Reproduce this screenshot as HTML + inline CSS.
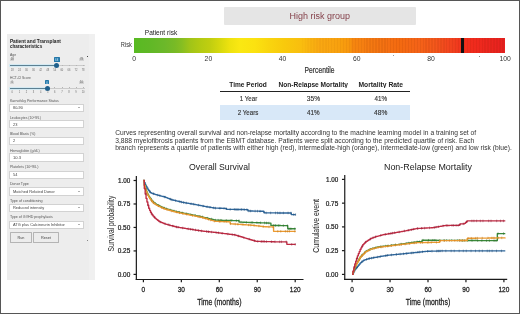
<!DOCTYPE html>
<html><head><meta charset="utf-8"><style>
html,body{margin:0;padding:0;}
body{width:520px;height:314px;position:relative;overflow:hidden;background:#fff;font-family:"Liberation Sans",sans-serif;}
.t{position:absolute;left:0;top:0;white-space:nowrap;line-height:20px;font-size:20px;transform-origin:0 0;filter:opacity(0.999);}
.box{position:absolute;background:#d3d3d3;border-radius:0.5px}
.btn{position:absolute;background:#ececec;border:0.8px solid #b4b4b4;box-sizing:border-box;border-radius:0.6px}
#frame{position:absolute;left:0;top:0;width:520px;height:314px;box-sizing:border-box;border:1px solid #565656;pointer-events:none}
</style></head><body>
<div style="position:absolute;left:7px;top:34px;width:87.5px;height:246px;background:#ededed"></div>
<div style="position:absolute;left:89px;top:34px;width:5.5px;height:246px;background:#f0f0f0"></div>
<div class="box" style="left:10.2px;top:57.50px;width:4.2px;height:3.3px"></div>
<div class="box" style="left:79.3px;top:57.50px;width:4.4px;height:3.3px"></div>
<div style="position:absolute;left:53.5px;top:57.2px;width:6.30px;height:4.40px;background:#2477a8;border-radius:0.6px"></div>
<div style="position:absolute;left:9.4px;top:64.20px;width:47.30px;height:3.2px;background:#d3eaf3"></div>
<div style="position:absolute;left:9.6px;top:65.25px;width:47.10px;height:1.1px;background:#5d8092"></div>
<div style="position:absolute;left:56.70px;top:65.35px;width:27.90px;height:0.9px;background:#cacaca"></div>
<div style="position:absolute;left:61.56px;top:64.50px;width:0.6px;height:1.0px;background:#b5b5b5"></div>
<div style="position:absolute;left:68.64px;top:64.50px;width:0.6px;height:1.0px;background:#b5b5b5"></div>
<div style="position:absolute;left:75.72px;top:64.50px;width:0.6px;height:1.0px;background:#b5b5b5"></div>
<div style="position:absolute;left:82.80px;top:64.50px;width:0.6px;height:1.0px;background:#b5b5b5"></div>
<div style="position:absolute;left:54.20px;top:63.30px;width:5px;height:5px;border-radius:50%;background:#1d5f8c"></div>
<div class="box" style="left:10.2px;top:80.50px;width:4.2px;height:3.3px"></div>
<div class="box" style="left:79.3px;top:80.50px;width:4.4px;height:3.3px"></div>
<div style="position:absolute;left:45.4px;top:80.2px;width:3.40px;height:4.00px;background:#2477a8;border-radius:0.6px"></div>
<div style="position:absolute;left:9.4px;top:86.60px;width:37.60px;height:3.2px;background:#d3eaf3"></div>
<div style="position:absolute;left:9.6px;top:87.65px;width:37.40px;height:1.1px;background:#5d8092"></div>
<div style="position:absolute;left:47.00px;top:87.75px;width:37.60px;height:0.9px;background:#cacaca"></div>
<div style="position:absolute;left:54.48px;top:86.90px;width:0.6px;height:1.0px;background:#b5b5b5"></div>
<div style="position:absolute;left:61.56px;top:86.90px;width:0.6px;height:1.0px;background:#b5b5b5"></div>
<div style="position:absolute;left:68.64px;top:86.90px;width:0.6px;height:1.0px;background:#b5b5b5"></div>
<div style="position:absolute;left:75.72px;top:86.90px;width:0.6px;height:1.0px;background:#b5b5b5"></div>
<div style="position:absolute;left:82.80px;top:86.90px;width:0.6px;height:1.0px;background:#b5b5b5"></div>
<div style="position:absolute;left:44.50px;top:85.70px;width:5px;height:5px;border-radius:50%;background:#1d5f8c"></div>
<div style="position:absolute;left:86.6px;top:55.8px;width:1.4px;height:1.2px;background:#444"></div>
<div style="position:absolute;left:86.8px;top:240px;width:1.2px;height:1.2px;background:#888"></div>
<div style="position:absolute;left:9.3px;top:103.80px;width:75.0px;height:8.10px;background:#fff;border:0.6px solid #d2d2d2;box-sizing:border-box"></div>
<div style="position:absolute;left:77.7px;top:107.15px;width:0;height:0;border-left:1.3px solid transparent;border-right:1.3px solid transparent;border-top:1.5px solid #666"></div>
<div style="position:absolute;left:9.3px;top:120.20px;width:75.0px;height:8.30px;background:#fff;border:0.6px solid #d2d2d2;box-sizing:border-box"></div>
<div style="position:absolute;left:9.3px;top:136.60px;width:75.0px;height:8.40px;background:#fff;border:0.6px solid #d2d2d2;box-sizing:border-box"></div>
<div style="position:absolute;left:9.3px;top:153.40px;width:75.0px;height:8.40px;background:#fff;border:0.6px solid #d2d2d2;box-sizing:border-box"></div>
<div style="position:absolute;left:9.3px;top:170.50px;width:75.0px;height:8.40px;background:#fff;border:0.6px solid #d2d2d2;box-sizing:border-box"></div>
<div style="position:absolute;left:9.3px;top:187.00px;width:75.0px;height:8.50px;background:#fff;border:0.6px solid #d2d2d2;box-sizing:border-box"></div>
<div style="position:absolute;left:77.7px;top:190.55px;width:0;height:0;border-left:1.3px solid transparent;border-right:1.3px solid transparent;border-top:1.5px solid #666"></div>
<div style="position:absolute;left:9.3px;top:203.50px;width:75.0px;height:8.40px;background:#fff;border:0.6px solid #d2d2d2;box-sizing:border-box"></div>
<div style="position:absolute;left:77.7px;top:207.00px;width:0;height:0;border-left:1.3px solid transparent;border-right:1.3px solid transparent;border-top:1.5px solid #666"></div>
<div style="position:absolute;left:9.3px;top:220.50px;width:75.0px;height:8.50px;background:#fff;border:0.6px solid #d2d2d2;box-sizing:border-box"></div>
<div style="position:absolute;left:77.7px;top:224.05px;width:0;height:0;border-left:1.3px solid transparent;border-right:1.3px solid transparent;border-top:1.5px solid #666"></div>
<div class="btn" style="left:9.5px;top:232.3px;width:22.9px;height:11.1px"></div>
<div class="btn" style="left:33.2px;top:232.3px;width:25.4px;height:11.1px"></div>
<div style="position:absolute;left:224px;top:7.4px;width:192px;height:17.2px;background:#e5e5e5;border-radius:1px"></div>
<div style="position:absolute;left:134.2px;top:37.5px;width:371px;height:15.5px;background:linear-gradient(to right,#58ba22 0.0%,#60b826 4.26%,#6cb82a 8.3%,#78ba26 11.0%,#86be22 12.88%,#a0c418 15.04%,#b2ca12 17.74%,#c0ce10 20.43%,#d6d80e 23.13%,#eee20f 25.82%,#fae812 28.52%,#fbe210 32.56%,#f9d40e 36.6%,#f8c90c 40.65%,#f9bf0e 44.69%,#f9a812 50.08%,#f8a00e 55.47%,#f7960e 58.17%,#f5860f 58.98%,#f57a12 63.56%,#f46e12 68.95%,#f36a10 71.64%,#f46218 77.04%,#f5581c 81.08%,#f24a1e 83.77%,#f03e1e 86.47%,#f22e1c 89.16%,#e82020 100.0%)"></div>
<div style="position:absolute;left:300px;top:37.5px;width:205.2px;height:15.5px;background:repeating-linear-gradient(to right,rgba(0,0,0,0) 0px,rgba(0,0,0,0) 1.6px,rgba(110,30,0,0.08) 1.6px,rgba(110,30,0,0.08) 2.95px);-webkit-mask-image:linear-gradient(to right,rgba(0,0,0,0.2),#000 40%)"></div>
<div style="position:absolute;left:461px;top:37.5px;width:3px;height:15.5px;background:#111"></div>
<div style="position:absolute;left:393.3px;top:55.3px;width:0.9px;height:1.2px;background:#999"></div>
<div style="position:absolute;left:478.6px;top:55.5px;width:0.9px;height:1.2px;background:#888"></div>
<div style="position:absolute;left:220.2px;top:90.8px;width:190.2px;height:1.6px;background:#222"></div>
<div style="position:absolute;left:220.4px;top:105px;width:190px;height:15px;background:#d8e8f8"></div>
<svg width="520" height="314" style="position:absolute;left:0;top:0">
<g stroke="#1a1a1a" stroke-width="1.2" fill="none">
<line x1="136.35" y1="176.0" x2="136.35" y2="280.1" /><line x1="135.75" y1="279.5" x2="303.5" y2="279.5" /><line x1="133.54999999999998" y1="180.49999999999997" x2="136.35" y2="180.49999999999997" /><line x1="133.54999999999998" y1="203.97499999999997" x2="136.35" y2="203.97499999999997" /><line x1="133.54999999999998" y1="227.45" x2="136.35" y2="227.45" /><line x1="133.54999999999998" y1="250.92499999999998" x2="136.35" y2="250.92499999999998" /><line x1="133.54999999999998" y1="274.4" x2="136.35" y2="274.4" /><line x1="143.4" y1="279.5" x2="143.4" y2="282.3" /><line x1="181.35" y1="279.5" x2="181.35" y2="282.3" /><line x1="219.3" y1="279.5" x2="219.3" y2="282.3" /><line x1="257.25" y1="279.5" x2="257.25" y2="282.3" /><line x1="295.2" y1="279.5" x2="295.2" y2="282.3" />
<line x1="344.75" y1="174.9" x2="344.75" y2="280.0" /><line x1="344.15" y1="279.4" x2="507.2" y2="279.4" /><line x1="341.95" y1="179.39999999999998" x2="344.75" y2="179.39999999999998" /><line x1="341.95" y1="203.14999999999998" x2="344.75" y2="203.14999999999998" /><line x1="341.95" y1="226.89999999999998" x2="344.75" y2="226.89999999999998" /><line x1="341.95" y1="250.64999999999998" x2="344.75" y2="250.64999999999998" /><line x1="341.95" y1="274.4" x2="344.75" y2="274.4" /><line x1="352.1" y1="279.4" x2="352.1" y2="282.2" /><line x1="390.05" y1="279.4" x2="390.05" y2="282.2" /><line x1="428.0" y1="279.4" x2="428.0" y2="282.2" /><line x1="465.95000000000005" y1="279.4" x2="465.95000000000005" y2="282.2" /><line x1="503.9" y1="279.4" x2="503.9" y2="282.2" />
</g>
<g fill="none" stroke-width="1.35" stroke-linejoin="round">
<path d="M143.40,180.50H144.29V182.75H145.17V185.07H146.06V186.52H146.94V187.97H147.83V189.33H148.71V190.64H149.60V191.96H150.48V192.61H151.37V193.17H152.25V193.46H153.14V193.75H154.03V194.05H154.91V194.34H155.80V194.64H156.68V194.88H157.57V195.12H158.45V195.36H159.34V195.59H160.22V195.83H161.11V196.07H162.00V196.31H162.88V196.54H163.77V196.78H164.65V197.02H165.54V197.33H166.42V197.69H167.31V198.05H168.19V198.41H169.08V198.77H169.96V199.13H170.85V199.49H171.74V199.81H172.62V200.02H173.51V200.22H174.39V200.43H175.28V200.64H176.16V200.84H177.05V201.05H177.93V201.26H178.82V201.47H179.71V201.67H180.59V201.88H181.48V202.09H182.36V202.30H183.25V202.49H184.13V202.65H185.02V202.80H185.90V202.95H186.79V203.10H187.67V203.25H188.56V203.40H189.45V203.56H190.33V203.71H191.22V203.86H192.10V204.01H192.99V204.16H193.87V204.31H194.76V204.47H195.64V204.64H196.53V204.82H197.42V204.99H198.30V205.16H199.19V205.34H200.07V205.51H200.96V205.68H201.84V205.86H202.73V206.03H203.61V206.20H204.50V206.38H205.39V206.55H206.27V206.72H207.16V206.86H208.04V207.00H208.93V207.14H209.81V207.28H210.70V207.42H211.58V207.56H212.47V207.70H213.35V207.85H214.24V207.99H215.13V208.11H216.01V208.13H216.90V208.16H217.78V208.18H218.67V208.20H219.55V208.23H220.44V208.25H221.32V208.27H222.21V208.30H223.10V208.32H223.98V208.34H224.87V208.37H225.75V208.70H226.64V209.34H227.52V209.35H228.41V209.36H229.29V209.37H230.18V209.38H231.06V209.39H231.95V209.41H232.84V209.42H233.72V209.43H234.61V209.44H235.49V209.45H236.38V209.46H237.26V209.47H238.15V209.49H239.03V209.50H239.92V209.51H240.81V209.52H241.69V209.53H242.58V209.54H243.46V209.56H244.35V209.57H245.23V209.58H246.12V209.59H247.00V209.60H247.89V210.92H248.77V210.94H249.66V210.97H250.55V210.99H251.43V211.01H252.32V211.03H253.20V211.05H254.09V211.07H254.97V211.09H255.86V211.11H256.74V211.14H257.63V211.16H258.52V211.18H259.40V211.20H260.29V211.22H261.17V211.24H262.06V211.26H262.94V211.28H263.83V212.36H264.71V212.90H265.60V212.90H266.48V212.90H267.37V212.91H268.26V212.91H269.14V212.91H270.03V212.92H270.91V212.92H271.80V212.92H272.68V212.93H273.57V212.93H274.45V212.93H275.34V212.94H276.23V212.94H277.11V212.94H278.00V212.95H278.88V212.95H279.77V212.95H280.65V212.95H281.54V212.96H282.42V212.96H283.31V212.96H284.19V212.97H285.08V212.97H285.97V212.97H286.85V212.98H287.74V212.98H288.62V212.98H289.51V212.99H290.39V212.99H291.28V214.59H292.16V214.59H293.05V214.59H293.94V214.59H294.82V214.59H295.71V214.59" stroke="#2f679c"/>
<path d="M145.93,183.77v2.6M150.22,190.66v2.6M153.64,192.45v2.6M157.73,193.82v2.6M159.86,194.29v2.6M164.86,195.72v2.6M170.40,197.83v2.6M171.96,198.51v2.6M175.63,199.34v2.6M179.82,200.37v2.6M181.50,200.79v2.6M183.64,201.19v2.6M186.23,201.65v2.6M191.09,202.41v2.6M193.74,202.86v2.6M198.64,203.86v2.6M203.04,204.73v2.6M207.12,205.42v2.6M209.94,205.98v2.6M213.66,206.55v2.6M215.51,206.81v2.6M219.90,206.93v2.6M224.04,207.04v2.6M226.32,207.40v2.6M230.20,208.08v2.6M234.34,208.13v2.6M236.01,208.15v2.6M237.97,208.17v2.6M241.38,208.22v2.6M244.29,208.26v2.6M246.87,208.29v2.6M248.83,209.64v2.6M250.60,209.69v2.6M255.11,209.79v2.6M257.49,209.84v2.6M260.05,209.90v2.6M263.96,211.06v2.6M266.16,211.60v2.6M270.64,211.62v2.6M275.50,211.64v2.6M277.55,211.64v2.6M279.97,211.65v2.6M283.40,211.66v2.6M288.09,211.68v2.6M290.93,211.69v2.6M293.72,213.29v2.6M295.59,213.29v2.6" stroke="#1f4a72" stroke-width="0.8" opacity="0.6"/>
<path d="M143.40,180.50H144.29V185.07H145.17V188.63H146.06V190.95H146.94V193.27H147.83V194.97H148.71V196.42H149.60V197.87H150.48V199.00H151.37V200.13H152.25V201.26H153.14V202.19H154.03V202.85H154.91V203.51H155.80V204.16H156.68V204.64H157.57V205.09H158.45V205.54H159.34V205.99H160.22V206.44H161.11V206.86H162.00V207.25H162.88V207.64H163.77V208.02H164.65V208.41H165.54V208.72H166.42V208.96H167.31V209.21H168.19V209.46H169.08V209.70H169.96V209.95H170.85V210.20H171.74V210.44H172.62V210.69H173.51V210.94H174.39V211.18H175.28V211.43H176.16V211.67H177.05V211.86H177.93V212.04H178.82V212.22H179.71V212.40H180.59V212.59H181.48V212.77H182.36V212.95H183.25V213.13H184.13V213.31H185.02V213.50H185.90V213.68H186.79V213.86H187.67V214.04H188.56V214.23H189.45V214.41H190.33V214.58H191.22V214.76H192.10V214.94H192.99V215.12H193.87V215.29H194.76V215.47H195.64V215.65H196.53V215.83H197.42V216.00H198.30V216.18H199.19V216.36H200.07V216.54H200.96V216.71H201.84V216.90H202.73V217.12H203.61V217.34H204.50V217.55H205.39V217.77H206.27V217.99H207.16V218.20H208.04V218.42H208.93V218.64H209.81V218.85H210.70V219.07H211.58V219.29H212.47V219.51H213.35V219.72H214.24V219.94H215.13V220.13H216.01V220.15H216.90V220.17H217.78V220.19H218.67V220.21H219.55V220.24H220.44V220.26H221.32V220.28H222.21V220.30H223.10V220.32H223.98V220.34H224.87V220.36H225.75V220.39H226.64V220.41H227.52V220.43H228.41V220.45H229.29V220.47H230.18V220.49H231.06V220.51H231.95V220.54H232.84V220.56H233.72V220.58H234.61V220.60H235.49V220.62H236.38V220.64H237.26V220.66H238.15V220.69H239.03V222.10H239.92V222.13H240.81V222.16H241.69V222.19H242.58V222.22H243.46V222.25H244.35V222.28H245.23V222.30H246.12V222.33H247.00V222.36H247.89V222.39H248.77V222.42H249.66V222.45H250.55V222.48H251.43V222.51H252.32V222.54H253.20V222.56H254.09V222.59H254.97V222.62H255.86V222.65H256.74V222.68H257.63V222.71H258.52V222.74H259.40V222.77H260.29V222.80H261.17V222.82H262.06V222.85H262.94V222.88H263.83V222.91H264.71V222.94H265.60V222.97H266.48V223.00H267.37V223.03H268.26V223.06H269.14V223.09H270.03V223.11H270.91V225.38H271.80V225.40H272.68V225.42H273.57V225.43H274.45V225.45H275.34V225.46H276.23V225.48H277.11V225.49H278.00V225.51H278.88V225.52H279.77V225.54H280.65V225.55H281.54V225.57H282.42V225.58H283.31V225.60H284.19V225.62H285.08V225.63H285.97V225.65H286.85V225.66H287.74V228.76H288.62V228.76H289.51V228.76H290.39V228.76H291.28V228.76H292.16V228.76H293.05V228.76H293.94V228.76H294.82V228.76H295.71V228.76" stroke="#3a8a3a"/>
<path d="M145.93,187.33v2.6M150.87,197.70v2.6M153.46,200.89v2.6M155.28,202.21v2.6M158.62,204.24v2.6M164.19,206.72v2.6M166.35,207.42v2.6M170.17,208.65v2.6M173.92,209.64v2.6M176.38,210.37v2.6M179.24,210.92v2.6M182.05,211.47v2.6M186.66,212.38v2.6M190.76,213.28v2.6M195.33,214.17v2.6M199.76,215.06v2.6M202.48,215.60v2.6M207.56,216.90v2.6M211.47,217.77v2.6M215.53,218.83v2.6M218.14,218.89v2.6M220.94,218.96v2.6M226.29,219.09v2.6M231.05,219.19v2.6M236.39,219.34v2.6M238.99,219.39v2.6M241.01,220.86v2.6M246.39,221.03v2.6M252.05,221.21v2.6M256.85,221.38v2.6M260.59,221.50v2.6M264.51,221.61v2.6M266.46,221.67v2.6M268.86,221.76v2.6M273.68,224.13v2.6M275.42,224.16v2.6M278.77,224.21v2.6M283.34,224.30v2.6M287.39,224.36v2.6M289.00,227.46v2.6M290.89,227.46v2.6M294.82,227.46v2.6" stroke="#2a632a" stroke-width="0.8" opacity="0.6"/>
<path d="M143.40,180.50H144.29V185.57H145.17V189.21H146.06V191.56H146.94V193.91H147.83V195.62H148.71V197.08H149.60V198.53H150.48V199.66H151.37V200.79H152.25V201.92H153.14V202.85H154.03V203.51H154.91V204.16H155.80V204.82H156.68V205.30H157.57V205.75H158.45V206.20H159.34V206.65H160.22V207.10H161.11V207.51H162.00V207.88H162.88V208.25H163.77V208.61H164.65V208.98H165.54V209.28H166.42V209.53H167.31V209.77H168.19V210.02H169.08V210.27H169.96V210.51H170.85V210.76H171.74V211.01H172.62V211.25H173.51V211.50H174.39V211.75H175.28V211.99H176.16V212.24H177.05V212.42H177.93V212.60H178.82V212.78H179.71V212.97H180.59V213.15H181.48V213.33H182.36V213.51H183.25V213.70H184.13V213.88H185.02V214.06H185.90V214.24H186.79V214.42H187.67V214.61H188.56V214.79H189.45V214.97H190.33V215.15H191.22V215.32H192.10V215.50H192.99V215.68H193.87V215.86H194.76V216.03H195.64V216.21H196.53V216.39H197.42V216.57H198.30V216.74H199.19V216.92H200.07V217.10H200.96V217.28H201.84V217.48H202.73V217.74H203.61V218.00H204.50V218.26H205.39V218.52H206.27V218.78H207.16V219.04H208.04V219.30H208.93V219.56H209.81V219.82H210.70V220.08H211.58V220.34H212.47V220.60H213.35V220.86H214.24V221.12H215.13V221.35H216.01V221.38H216.90V221.41H217.78V221.43H218.67V221.46H219.55V221.49H220.44V221.52H221.32V221.55H222.21V221.58H223.10V221.60H223.98V221.63H224.87V221.66H225.75V221.69H226.64V221.72H227.52V221.74H228.41V221.77H229.29V221.80H230.18V223.79H231.06V223.85H231.95V223.90H232.84V223.96H233.72V224.02H234.61V224.08H235.49V224.14H236.38V224.19H237.26V224.25H238.15V224.31H239.03V224.37H239.92V224.42H240.81V224.48H241.69V224.54H242.58V224.60H243.46V224.66H244.35V224.71H245.23V224.77H246.12V224.83H247.00V224.89H247.89V224.95H248.77V225.00H249.66V225.06H250.55V225.13H251.43V225.23H252.32V225.32H253.20V225.42H254.09V225.51H254.97V225.61H255.86V225.70H256.74V225.80H257.63V225.90H258.52V226.01H259.40V226.12H260.29V226.24H261.17V226.35H262.06V226.46H262.94V226.57H263.83V226.68H264.71V226.72H265.60V226.75H266.48V226.78H267.37V226.81H268.26V226.83H269.14V226.86H270.03V226.89H270.91V226.92H271.80V226.94H272.68V226.97H273.57V231.30H274.45V231.30H275.34V231.30H276.23V231.30H277.11V231.30H278.00V231.30H278.88V231.30H279.77V231.30H280.65V231.30H281.54V231.30H282.42V231.30H283.31V231.30H284.19V231.30H285.08V231.30H285.97V231.30H286.85V231.30H287.74V231.30H288.62V231.30H289.51V231.30H290.39V231.30H291.28V231.30H292.16V231.30H293.05V231.30H293.94V231.30H294.82V231.30H295.71V231.30" stroke="#ec9a30"/>
<path d="M145.93,187.91v2.6M151.55,199.49v2.6M153.32,201.55v2.6M158.44,204.45v2.6M161.64,206.21v2.6M163.73,206.95v2.6M167.07,208.23v2.6M171.75,209.71v2.6M176.97,210.94v2.6M179.51,211.48v2.6M182.77,212.21v2.6M186.80,213.12v2.6M192.42,214.20v2.6M198.05,215.27v2.6M200.05,215.62v2.6M202.93,216.44v2.6M205.34,216.96v2.6M208.44,218.00v2.6M210.74,218.78v2.6M214.34,219.82v2.6M219.80,220.19v2.6M224.14,220.33v2.6M226.13,220.39v2.6M230.55,222.49v2.6M235.32,222.78v2.6M237.93,222.95v2.6M243.00,223.30v2.6M248.62,223.65v2.6M250.72,223.83v2.6M253.99,224.12v2.6M258.91,224.71v2.6M263.32,225.27v2.6M268.96,225.53v2.6M273.13,225.67v2.6M277.77,230.00v2.6M280.75,230.00v2.6M285.38,230.00v2.6M287.35,230.00v2.6M289.33,230.00v2.6M294.85,230.00v2.6" stroke="#b8741c" stroke-width="0.8" opacity="0.6"/>
<path d="M143.40,180.50H144.29V188.61H145.17V194.00H146.06V198.41H146.94V202.01H147.83V205.20H148.71V208.24H149.60V210.30H150.48V212.20H151.37V213.88H152.25V215.01H153.14V216.14H154.03V217.27H154.91V218.11H155.80V218.84H156.68V219.56H157.57V220.29H158.45V221.02H159.34V221.64H160.22V222.00H161.11V222.37H162.00V222.73H162.88V223.09H163.77V223.46H164.65V223.82H165.54V224.11H166.42V224.35H167.31V224.59H168.19V224.83H169.08V225.07H169.96V225.31H170.85V225.55H171.74V225.79H172.62V226.02H173.51V226.26H174.39V226.50H175.28V226.74H176.16V226.98H177.05V227.12H177.93V227.27H178.82V227.41H179.71V227.55H180.59V227.70H181.48V227.84H182.36V227.98H183.25V228.13H184.13V228.27H185.02V228.41H185.90V228.56H186.79V228.70H187.67V228.84H188.56V228.98H189.45V229.13H190.33V229.26H191.22V229.40H192.10V229.54H192.99V229.68H193.87V229.82H194.76V229.95H195.64V230.09H196.53V230.23H197.42V230.37H198.30V230.51H199.19V230.64H200.07V230.78H200.96V230.92H201.84V231.04H202.73V231.14H203.61V231.23H204.50V231.32H205.39V231.42H206.27V231.51H207.16V231.60H208.04V231.70H208.93V231.79H209.81V231.88H210.70V231.97H211.58V232.07H212.47V232.16H213.35V232.25H214.24V232.35H215.13V232.44H216.01V232.55H216.90V232.66H217.78V232.78H218.67V232.89H219.55V233.00H220.44V233.11H221.32V233.22H222.21V233.33H223.10V233.44H223.98V233.55H224.87V233.66H225.75V233.77H226.64V233.89H227.52V234.00H228.41V234.11H229.29V234.22H230.18V234.33H231.06V234.44H231.95V234.55H232.84V234.66H233.72V234.77H234.61V234.91H235.49V235.17H236.38V235.44H237.26V235.71H238.15V235.97H239.03V236.24H239.92V236.51H240.81V236.77H241.69V237.04H242.58V237.31H243.46V237.57H244.35V237.84H245.23V238.11H246.12V238.37H247.00V238.64H247.89V238.91H248.77V239.17H249.66V239.44H250.55V239.71H251.43V239.98H252.32V240.24H253.20V240.51H254.09V240.78H254.97V241.04H255.86V241.31H256.74V241.37H257.63V241.39H258.52V241.41H259.40V241.43H260.29V241.45H261.17V241.48H262.06V241.50H262.94V241.52H263.83V241.54H264.71V241.56H265.60V241.59H266.48V241.61H267.37V241.63H268.26V241.65H269.14V241.67H270.03V241.69H270.91V241.72H271.80V241.74H272.68V241.76H273.57V241.78H274.45V241.80H275.34V241.82H276.23V241.82H277.11V241.82H278.00V241.82H278.88V241.82H279.77V241.82H280.65V241.82H281.54V241.82H282.42V241.82H283.31V241.82H284.19V241.82H285.08V241.82H285.97V241.82H286.85V244.35H287.74V244.35H288.62V244.35H289.51V244.35H290.39V244.35H291.28V244.35H292.16V244.35H293.05V244.35H293.94V244.35H294.82V244.35H295.71V244.35" stroke="#bf2a42"/>
<path d="M145.93,192.70v2.6M148.04,203.90v2.6M151.92,212.58v2.6M154.71,215.97v2.6M160.23,220.70v2.6M165.14,222.52v2.6M168.19,223.29v2.6M169.80,223.77v2.6M172.82,224.72v2.6M176.52,225.68v2.6M178.09,225.97v2.6M182.74,226.68v2.6M188.20,227.54v2.6M190.58,227.96v2.6M192.91,228.24v2.6M195.51,228.65v2.6M198.40,229.21v2.6M201.47,229.62v2.6M206.67,230.21v2.6M208.52,230.40v2.6M211.72,230.77v2.6M216.11,231.25v2.6M218.40,231.48v2.6M222.21,232.03v2.6M227.90,232.70v2.6M232.25,233.25v2.6M234.82,233.61v2.6M238.38,234.67v2.6M243.84,236.27v2.6M249.21,237.87v2.6M254.45,239.48v2.6M257.76,240.09v2.6M261.75,240.18v2.6M264.10,240.24v2.6M266.43,240.29v2.6M271.44,240.42v2.6M274.96,240.50v2.6M279.64,240.52v2.6M281.44,240.52v2.6M286.21,240.52v2.6M291.69,243.05v2.6M295.21,243.05v2.6" stroke="#862038" stroke-width="0.8" opacity="0.6"/>
<path d="M352.10,274.40H352.99V272.71H353.87V270.85H354.76V269.55H355.64V268.47H356.53V267.39H357.41V266.32H358.30V265.25H359.18V264.18H360.07V263.12H360.96V262.32H361.84V261.63H362.73V260.94H363.61V260.25H364.50V259.91H365.38V259.62H366.27V259.34H367.15V259.05H368.04V258.77H368.92V258.48H369.81V258.31H370.70V258.15H371.58V258.00H372.47V257.85H373.35V257.69H374.24V257.54H375.12V257.38H376.01V257.23H376.89V257.07H377.78V256.92H378.67V256.76H379.55V256.60H380.44V256.44H381.32V256.29H382.21V256.13H383.09V255.97H383.98V255.83H384.86V255.70H385.75V255.56H386.63V255.42H387.52V255.29H388.41V255.17H389.29V255.09H390.18V255.00H391.06V254.92H391.95V254.83H392.83V254.75H393.72V254.67H394.60V254.58H395.49V254.50H396.38V254.41H397.26V254.33H398.15V254.24H399.03V254.16H399.92V254.07H400.80V253.99H401.69V253.90H402.57V253.81H403.46V253.72H404.34V253.63H405.23V253.54H406.12V253.45H407.00V253.35H407.89V253.26H408.77V253.17H409.66V253.08H410.54V252.99H411.43V252.90H412.31V252.81H413.20V252.72H414.09V252.63H414.97V252.54H415.86V252.45H416.74V252.36H417.63V252.26H418.51V252.17H419.40V252.07H420.28V251.97H421.17V251.88H422.05V251.78H422.94V251.69H423.83V251.59H424.71V251.49H425.60V251.40H426.48V251.31H427.37V251.29H428.25V251.26H429.14V251.24H430.02V251.22H430.91V251.19H431.80V251.17H432.68V251.15H433.57V251.12H434.45V251.10H435.34V251.08H436.22V251.05H437.11V251.03H437.99V251.01H438.88V250.98H439.76V250.96H440.65V250.93H441.54V250.93H442.42V250.93H443.31V250.93H444.19V250.93H445.08V250.93H445.96V250.93H446.85V250.93H447.73V250.93H448.62V250.93H449.51V250.93H450.39V250.93H451.28V250.93H452.16V250.93H453.05V250.93H453.93V250.93H454.82V250.93H455.70V250.93H456.59V250.93H457.47V250.93H458.36V250.93H459.25V250.93H460.13V250.93H461.02V250.93H461.90V250.93H462.79V250.93H463.67V250.93H464.56V250.93H465.44V250.93H466.33V250.93H467.22V250.93H468.10V250.93H468.99V250.93H469.87V250.93H470.76V250.93H471.64V250.93H472.53V250.93H473.41V250.93H474.30V250.93H475.18V250.93H476.07V250.93H476.96V250.93H477.84V250.93H478.73V250.93H479.61V250.93H480.50V250.93H481.38V250.93H482.27V250.93H483.15V250.93H484.04V250.93H484.93V250.93H485.81V250.93H486.70V250.93H487.58V250.93H488.47V250.93H489.35V250.93H490.24V250.93H491.12V250.93H492.01V250.93H492.89V250.93H493.78V250.93H494.67V250.93H495.55V250.93H496.44V250.93H497.32V250.93H498.21V250.93H499.09V250.93H499.98V250.93H500.86V250.93H501.75V250.93H502.64V250.93H503.52V250.93H504.41V250.93H505.29V250.93" stroke="#2f679c"/>
<path d="M354.63,269.55v2.6M356.84,266.09v2.6M361.87,260.33v2.6M366.54,258.04v2.6M369.27,257.18v2.6M371.57,256.85v2.6M373.63,256.39v2.6M377.67,255.77v2.6M380.25,255.30v2.6M385.79,254.26v2.6M387.35,254.12v2.6M391.51,253.62v2.6M396.53,253.11v2.6M400.13,252.77v2.6M403.42,252.51v2.6M406.73,252.15v2.6M411.34,251.69v2.6M412.99,251.51v2.6M417.86,250.96v2.6M419.60,250.77v2.6M422.58,250.48v2.6M427.65,249.99v2.6M431.97,249.87v2.6M436.68,249.75v2.6M438.31,249.71v2.6M440.01,249.66v2.6M442.18,249.63v2.6M445.83,249.63v2.6M451.15,249.63v2.6M454.22,249.63v2.6M459.18,249.63v2.6M463.30,249.63v2.6M466.26,249.63v2.6M471.04,249.63v2.6M475.50,249.63v2.6M479.25,249.63v2.6M482.37,249.63v2.6M487.22,249.63v2.6M489.34,249.63v2.6M492.12,249.63v2.6M496.51,249.63v2.6M501.46,249.63v2.6" stroke="#1f4a72" stroke-width="0.8" opacity="0.6"/>
<path d="M352.10,274.40H352.99V271.64H353.87V268.91H354.76V266.86H355.64V265.09H356.53V263.32H357.41V261.72H358.30V260.20H359.18V258.68H360.07V257.16H360.96V256.08H361.84V255.17H362.73V254.26H363.61V253.36H364.50V252.45H365.38V251.54H366.27V251.03H367.15V250.59H368.04V250.14H368.92V249.70H369.81V249.26H370.70V248.81H371.58V248.56H372.47V248.35H373.35V248.13H374.24V247.91H375.12V247.69H376.01V247.48H376.89V247.26H377.78V247.04H378.67V246.91H379.55V246.79H380.44V246.66H381.32V246.53H382.21V246.41H383.09V246.28H383.98V246.18H384.86V246.08H385.75V245.97H386.63V245.87H387.52V245.77H388.41V245.66H389.29V245.55H390.18V245.44H391.06V245.33H391.95V245.22H392.83V245.11H393.72V245.00H394.60V244.89H395.49V244.78H396.38V244.66H397.26V244.55H398.15V244.44H399.03V244.33H399.92V244.22H400.80V244.11H401.69V243.99H402.57V243.86H403.46V243.73H404.34V243.60H405.23V243.47H406.12V243.35H407.00V243.22H407.89V243.09H408.77V242.96H409.66V242.84H410.54V242.71H411.43V242.58H412.31V242.45H413.20V242.33H414.09V242.20H414.97V242.07H415.86V241.94H416.74V241.81H417.63V241.78H418.51V241.74H419.40V241.71H420.28V241.67H421.17V241.64H422.05V240.20H422.94V240.21H423.83V240.21H424.71V240.22H425.60V240.22H426.48V240.23H427.37V240.24H428.25V240.24H429.14V240.25H430.02V240.25H430.91V240.26H431.80V240.26H432.68V240.27H433.57V240.28H434.45V240.28H435.34V240.29H436.22V240.29H437.11V240.30H437.99V240.30H438.88V240.31H439.76V240.31H440.65V240.32H441.54V240.33H442.42V240.33H443.31V240.34H444.19V240.34H445.08V240.35H445.96V240.35H446.85V240.36H447.73V240.36H448.62V240.37H449.51V240.38H450.39V240.38H451.28V240.39H452.16V240.39H453.05V240.40H453.93V240.40H454.82V240.41H455.70V240.41H456.59V240.42H457.47V240.43H458.36V240.43H459.25V240.44H460.13V240.44H461.02V240.45H461.90V240.45H462.79V240.46H463.67V240.47H464.56V240.47H465.44V240.48H466.33V240.48H467.22V240.49H468.10V240.49H468.99V240.50H469.87V240.50H470.76V240.51H471.64V240.52H472.53V240.52H473.41V240.53H474.30V240.53H475.18V240.54H476.07V240.54H476.96V240.55H477.84V240.55H478.73V240.56H479.61V240.57H480.50V240.57H481.38V240.58H482.27V240.58H483.15V240.59H484.04V240.59H484.93V240.60H485.81V240.60H486.70V240.61H487.58V240.62H488.47V240.62H489.35V240.63H490.24V240.63H491.12V240.64H492.01V240.64H492.89V240.65H493.78V240.66H494.67V240.66H495.55V240.67H496.44V240.67H497.32V233.55H498.21V233.55H499.09V233.55H499.98V233.55H500.86V233.55H501.75V233.55H502.64V233.55H503.52V233.55H504.41V233.55H505.29V233.55" stroke="#3a8a3a"/>
<path d="M354.63,267.61v2.6M360.25,255.86v2.6M362.02,253.87v2.6M367.14,249.73v2.6M370.34,247.96v2.6M372.43,247.26v2.6M375.77,246.39v2.6M380.45,245.36v2.6M385.67,244.78v2.6M388.21,244.47v2.6M391.47,244.03v2.6M395.50,243.48v2.6M401.12,242.81v2.6M406.75,242.05v2.6M408.75,241.79v2.6M411.63,241.28v2.6M414.04,241.03v2.6M417.14,240.51v2.6M419.44,240.41v2.6M423.04,238.91v2.6M428.50,238.94v2.6M432.84,238.97v2.6M434.83,238.98v2.6M439.25,239.01v2.6M444.02,239.04v2.6M446.63,239.05v2.6M451.70,239.09v2.6M457.32,239.12v2.6M459.42,239.14v2.6M462.69,239.15v2.6M467.61,239.19v2.6M472.02,239.22v2.6M477.66,239.25v2.6M481.83,239.28v2.6M486.47,239.30v2.6M489.45,239.33v2.6M494.08,239.36v2.6M496.05,239.37v2.6M498.03,232.25v2.6M503.55,232.25v2.6" stroke="#2a632a" stroke-width="0.8" opacity="0.6"/>
<path d="M352.10,274.40H352.99V271.64H353.87V268.91H354.76V266.91H355.64V265.20H356.53V263.49H357.41V261.93H358.30V260.44H359.18V258.94H360.07V257.44H360.96V256.38H361.84V255.49H362.73V254.59H363.61V253.70H364.50V252.81H365.38V251.92H366.27V251.41H367.15V250.97H368.04V250.52H368.92V250.08H369.81V249.64H370.70V249.19H371.58V248.94H372.47V248.73H373.35V248.51H374.24V248.29H375.12V248.07H376.01V247.86H376.89V247.64H377.78V247.42H378.67V247.29H379.55V247.17H380.44V247.04H381.32V246.91H382.21V246.79H383.09V246.66H383.98V246.56H384.86V246.46H385.75V246.35H386.63V246.25H387.52V246.15H388.41V246.04H389.29V245.93H390.18V245.82H391.06V245.71H391.95V245.60H392.83V245.49H393.72V245.38H394.60V245.27H395.49V245.16H396.38V245.04H397.26V244.93H398.15V244.82H399.03V244.71H399.92V244.60H400.80V244.49H401.69V244.39H402.57V244.29H403.46V244.19H404.34V244.09H405.23V243.98H406.12V243.88H407.00V243.78H407.89V243.68H408.77V243.58H409.66V243.48H410.54V243.38H411.43V243.28H412.31V243.18H413.20V243.07H414.09V242.97H414.97V242.87H415.86V242.77H416.74V242.67H417.63V242.65H418.51V242.64H419.40V242.62H420.28V242.61H421.17V242.59H422.05V242.58H422.94V242.56H423.83V242.55H424.71V242.53H425.60V242.52H426.48V242.50H427.37V242.49H428.25V242.47H429.14V242.46H430.02V242.44H430.91V242.43H431.80V242.41H432.68V242.40H433.57V242.38H434.45V242.37H435.34V242.35H436.22V242.34H437.11V242.32H437.99V242.31H438.88V242.29H439.76V240.67H440.65V240.66H441.54V240.66H442.42V240.65H443.31V240.65H444.19V240.64H445.08V240.63H445.96V240.63H446.85V240.62H447.73V240.62H448.62V240.61H449.51V240.60H450.39V240.60H451.28V240.59H452.16V240.59H453.05V240.58H453.93V240.57H454.82V240.57H455.70V240.56H456.59V240.56H457.47V240.55H458.36V240.54H459.25V240.54H460.13V240.53H461.02V240.53H461.90V240.52H462.79V240.51H463.67V240.51H464.56V240.50H465.44V240.50H466.33V240.49H467.22V238.30H468.10V238.29H468.99V238.28H469.87V238.27H470.76V238.26H471.64V238.24H472.53V238.23H473.41V238.22H474.30V238.21H475.18V238.20H476.07V238.19H476.96V238.18H477.84V238.17H478.73V238.16H479.61V238.15H480.50V238.13H481.38V238.12H482.27V238.11H483.15V238.10H484.04V238.09H484.93V238.08H485.81V238.07H486.70V238.06H487.58V238.05H488.47V238.04H489.35V238.02H490.24V238.01H491.12V238.00H492.01V237.99H492.89V237.98H493.78V237.97H494.67V237.96H495.55V237.95H496.44V237.94H497.32V237.93H498.21V237.91H499.09V237.90H499.98V237.89H500.86V237.88H501.75V237.87H502.64V237.86H503.52V237.85H504.41V237.84H505.29V237.83" stroke="#ec9a30"/>
<path d="M354.63,267.61v2.6M359.08,259.13v2.6M361.96,254.19v2.6M364.71,251.51v2.6M369.06,248.78v2.6M374.14,247.21v2.6M378.11,246.12v2.6M381.09,245.74v2.6M382.95,245.49v2.6M387.65,244.85v2.6M391.15,244.41v2.6M395.18,243.97v2.6M399.34,243.41v2.6M401.24,243.19v2.6M405.15,242.79v2.6M409.46,242.28v2.6M414.17,241.67v2.6M416.23,241.47v2.6M420.61,241.31v2.6M422.57,241.28v2.6M427.85,241.19v2.6M431.28,241.13v2.6M436.41,241.04v2.6M440.33,239.37v2.6M444.43,239.34v2.6M449.39,239.31v2.6M454.76,239.27v2.6M459.94,239.24v2.6M462.07,239.22v2.6M464.62,239.20v2.6M467.97,237.00v2.6M471.32,236.96v2.6M475.73,236.90v2.6M477.42,236.88v2.6M482.24,236.82v2.6M487.93,236.75v2.6M491.92,236.70v2.6M493.98,236.67v2.6M498.37,236.61v2.6M501.76,236.57v2.6" stroke="#b8741c" stroke-width="0.8" opacity="0.6"/>
<path d="M352.10,274.40H352.99V270.98H353.87V266.99H354.76V263.88H355.64V261.13H356.53V258.47H357.41V255.86H358.30V253.64H359.18V251.59H360.07V249.53H360.96V247.85H361.84V246.32H362.73V244.79H363.61V243.81H364.50V242.92H365.38V242.04H366.27V241.41H367.15V240.82H368.04V240.24H368.92V239.65H369.81V239.06H370.70V238.48H371.58V238.12H372.47V237.81H373.35V237.49H374.24V237.17H375.12V236.86H376.01V236.54H376.89V236.30H377.78V236.07H378.67V235.84H379.55V235.61H380.44V235.38H381.32V235.15H382.21V234.92H383.09V234.69H383.98V234.54H384.86V234.38H385.75V234.23H386.63V234.08H387.52V233.92H388.41V233.77H389.29V233.62H390.18V233.47H391.06V233.32H391.95V233.17H392.83V233.02H393.72V232.87H394.60V232.72H395.49V232.57H396.38V232.42H397.26V232.27H398.15V232.12H399.03V231.97H399.92V231.82H400.80V231.67H401.69V231.50H402.57V231.32H403.46V231.15H404.34V230.97H405.23V230.80H406.12V230.62H407.00V230.45H407.89V230.27H408.77V230.10H409.66V229.92H410.54V229.74H411.43V229.57H412.31V229.39H413.20V229.22H414.09V229.04H414.97V228.87H415.86V228.69H416.74V228.51H417.63V228.47H418.51V228.42H419.40V228.37H420.28V228.32H421.17V228.28H422.05V228.23H422.94V228.18H423.83V228.13H424.71V228.09H425.60V228.04H426.48V227.99H427.37V227.94H428.25V227.90H429.14V227.85H430.02V227.80H430.91V227.75H431.80V227.71H432.68V227.66H433.57V227.50H434.45V227.34H435.34V227.19H436.22V227.03H437.11V226.87H437.99V226.71H438.88V226.56H439.76V226.40H440.65V226.24H441.54V226.08H442.42V225.93H443.31V225.77H444.19V225.61H445.08V225.47H445.96V225.47H446.85V225.46H447.73V225.46H448.62V225.45H449.51V225.44H450.39V225.44H451.28V225.43H452.16V225.43H453.05V225.42H453.93V225.41H454.82V225.41H455.70V225.40H456.59V225.40H457.47V225.39H458.36V225.39H459.25V224.67H460.13V223.92H461.02V223.89H461.90V223.85H462.79V223.82H463.67V223.78H464.56V223.31H465.44V222.51H466.33V221.71H467.22V220.91H468.10V220.91H468.99V220.91H469.87V220.91H470.76V220.91H471.64V220.91H472.53V220.91H473.41V220.91H474.30V220.91H475.18V220.91H476.07V220.91H476.96V220.91H477.84V220.91H478.73V220.91H479.61V220.91H480.50V220.91H481.38V220.91H482.27V220.91H483.15V220.91H484.04V220.91H484.93V220.91H485.81V220.91H486.70V220.91H487.58V220.91H488.47V220.91H489.35V220.91H490.24V220.91H491.12V220.91H492.01V220.91H492.89V220.91H493.78V220.91H494.67V220.91H495.55V220.91H496.44V220.91H497.32V220.91H498.21V220.91H499.09V220.91H499.98V220.91H500.86V220.91H501.75V220.91H502.64V220.91H503.52V220.91H504.41V220.91H505.29V220.91" stroke="#bf2a42"/>
<path d="M354.63,265.69v2.6M356.94,257.17v2.6M361.98,245.02v2.6M365.74,240.74v2.6M370.24,237.76v2.6M372.91,236.51v2.6M375.57,235.56v2.6M380.72,234.08v2.6M385.38,233.08v2.6M388.83,232.47v2.6M390.92,232.17v2.6M392.46,231.87v2.6M394.65,231.42v2.6M399.14,230.67v2.6M404.36,229.67v2.6M408.74,228.97v2.6M411.35,228.44v2.6M413.23,227.92v2.6M417.50,227.21v2.6M421.60,226.98v2.6M424.57,226.83v2.6M429.53,226.55v2.6M434.31,226.20v2.6M436.00,225.89v2.6M438.34,225.41v2.6M443.03,224.63v2.6M446.93,224.16v2.6M452.01,224.13v2.6M453.67,224.12v2.6M456.14,224.10v2.6M458.11,224.09v2.6M459.98,223.37v2.6M463.24,222.52v2.6M466.71,220.41v2.6M471.89,219.61v2.6M473.93,219.61v2.6M476.65,219.61v2.6M480.32,219.61v2.6M482.98,219.61v2.6M488.66,219.61v2.6M491.04,219.61v2.6M496.70,219.61v2.6M500.47,219.61v2.6M503.46,219.61v2.6" stroke="#862038" stroke-width="0.8" opacity="0.6"/>
</g></svg>
<div class="t" style="font-weight:700;color:#222;transform:translate(9.90px,39.01px) scale(0.2378,0.2300)">Patient and Transplant</div>
<div class="t" style="font-weight:700;color:#222;transform:translate(9.90px,43.91px) scale(0.2287,0.2300)">characteristics</div>
<div class="t" style="font-weight:400;color:#555;transform:translate(10.00px,53.05px) scale(0.1714,0.1800)">Age</div>
<div class="t" style="font-weight:400;color:#555;transform:translate(12.30px,57.86px) scale(0.1350,0.1350) translateX(-50%)">18</div>
<div class="t" style="font-weight:400;color:#555;transform:translate(81.50px,57.86px) scale(0.1350,0.1350) translateX(-50%)">78</div>
<div class="t" style="font-weight:700;color:#9fd2ec;transform:translate(56.65px,58.13px) scale(0.1400,0.1400) translateX(-50%)">68</div>
<div class="t" style="font-weight:400;color:#6a6a6a;transform:translate(12.30px,68.40px) scale(0.1300,0.1300) translateX(-50%)">18</div>
<div class="t" style="font-weight:400;color:#6a6a6a;transform:translate(19.38px,68.40px) scale(0.1300,0.1300) translateX(-50%)">24</div>
<div class="t" style="font-weight:400;color:#6a6a6a;transform:translate(26.46px,68.40px) scale(0.1300,0.1300) translateX(-50%)">30</div>
<div class="t" style="font-weight:400;color:#6a6a6a;transform:translate(33.54px,68.40px) scale(0.1300,0.1300) translateX(-50%)">36</div>
<div class="t" style="font-weight:400;color:#6a6a6a;transform:translate(40.62px,68.40px) scale(0.1300,0.1300) translateX(-50%)">42</div>
<div class="t" style="font-weight:400;color:#6a6a6a;transform:translate(47.70px,68.40px) scale(0.1300,0.1300) translateX(-50%)">48</div>
<div class="t" style="font-weight:400;color:#6a6a6a;transform:translate(54.78px,68.40px) scale(0.1300,0.1300) translateX(-50%)">54</div>
<div class="t" style="font-weight:400;color:#6a6a6a;transform:translate(61.86px,68.40px) scale(0.1300,0.1300) translateX(-50%)">60</div>
<div class="t" style="font-weight:400;color:#6a6a6a;transform:translate(68.94px,68.40px) scale(0.1300,0.1300) translateX(-50%)">66</div>
<div class="t" style="font-weight:400;color:#6a6a6a;transform:translate(76.02px,68.40px) scale(0.1300,0.1300) translateX(-50%)">72</div>
<div class="t" style="font-weight:400;color:#6a6a6a;transform:translate(83.10px,68.40px) scale(0.1300,0.1300) translateX(-50%)">78</div>
<div class="t" style="font-weight:400;color:#555;transform:translate(10.00px,76.15px) scale(0.1671,0.1800)">HCT-CI Score</div>
<div class="t" style="font-weight:400;color:#555;transform:translate(12.30px,80.86px) scale(0.1350,0.1350) translateX(-50%)">0</div>
<div class="t" style="font-weight:400;color:#555;transform:translate(81.50px,80.86px) scale(0.1350,0.1350) translateX(-50%)">10</div>
<div class="t" style="font-weight:700;color:#9fd2ec;transform:translate(47.10px,81.13px) scale(0.1400,0.1400) translateX(-50%)">6</div>
<div class="t" style="font-weight:400;color:#6a6a6a;transform:translate(12.30px,90.80px) scale(0.1300,0.1300) translateX(-50%)">0</div>
<div class="t" style="font-weight:400;color:#6a6a6a;transform:translate(19.38px,90.80px) scale(0.1300,0.1300) translateX(-50%)">1</div>
<div class="t" style="font-weight:400;color:#6a6a6a;transform:translate(26.46px,90.80px) scale(0.1300,0.1300) translateX(-50%)">2</div>
<div class="t" style="font-weight:400;color:#6a6a6a;transform:translate(33.54px,90.80px) scale(0.1300,0.1300) translateX(-50%)">3</div>
<div class="t" style="font-weight:400;color:#6a6a6a;transform:translate(40.62px,90.80px) scale(0.1300,0.1300) translateX(-50%)">4</div>
<div class="t" style="font-weight:400;color:#6a6a6a;transform:translate(47.70px,90.80px) scale(0.1300,0.1300) translateX(-50%)">5</div>
<div class="t" style="font-weight:400;color:#6a6a6a;transform:translate(54.78px,90.80px) scale(0.1300,0.1300) translateX(-50%)">6</div>
<div class="t" style="font-weight:400;color:#6a6a6a;transform:translate(61.86px,90.80px) scale(0.1300,0.1300) translateX(-50%)">7</div>
<div class="t" style="font-weight:400;color:#6a6a6a;transform:translate(68.94px,90.80px) scale(0.1300,0.1300) translateX(-50%)">8</div>
<div class="t" style="font-weight:400;color:#6a6a6a;transform:translate(76.02px,90.80px) scale(0.1300,0.1300) translateX(-50%)">9</div>
<div class="t" style="font-weight:400;color:#6a6a6a;transform:translate(83.10px,90.80px) scale(0.1300,0.1300) translateX(-50%)">10</div>
<div class="t" style="font-weight:400;color:#555;transform:translate(9.90px,98.37px) scale(0.1803,0.1850)">Karnofsky Performance Status</div>
<div class="t" style="font-weight:400;color:#444;transform:translate(13.00px,105.88px) scale(0.1916,0.2050)">80-90</div>
<div class="t" style="font-weight:400;color:#555;transform:translate(9.90px,115.37px) scale(0.1727,0.1850)">Leukocytes (10^9/L)</div>
<div class="t" style="font-weight:400;color:#444;transform:translate(13.00px,122.38px) scale(0.1978,0.2050)">23</div>
<div class="t" style="font-weight:400;color:#555;transform:translate(9.90px,131.67px) scale(0.1725,0.1850)">Blood Blasts (%)</div>
<div class="t" style="font-weight:400;color:#444;transform:translate(13.00px,138.83px) scale(0.1978,0.2050)">2</div>
<div class="t" style="font-weight:400;color:#555;transform:translate(9.90px,148.57px) scale(0.1811,0.1850)">Hemoglobin (g/dL)</div>
<div class="t" style="font-weight:400;color:#444;transform:translate(13.00px,155.63px) scale(0.2055,0.2050)">10.3</div>
<div class="t" style="font-weight:400;color:#555;transform:translate(9.90px,164.87px) scale(0.1838,0.1850)">Platelets (10^9/L)</div>
<div class="t" style="font-weight:400;color:#444;transform:translate(13.00px,172.73px) scale(0.1978,0.2050)">54</div>
<div class="t" style="font-weight:400;color:#555;transform:translate(9.90px,181.87px) scale(0.1834,0.1850)">Donor Type</div>
<div class="t" style="font-weight:400;color:#444;transform:translate(13.00px,189.28px) scale(0.1979,0.2050)">Matched Related Donor</div>
<div class="t" style="font-weight:400;color:#555;transform:translate(9.90px,198.97px) scale(0.1838,0.1850)">Type of conditioning</div>
<div class="t" style="font-weight:400;color:#444;transform:translate(13.00px,205.73px) scale(0.1969,0.2050)">Reduced intensity</div>
<div class="t" style="font-weight:400;color:#555;transform:translate(9.90px,215.07px) scale(0.1816,0.1850)">Type of GVHD prophylaxis</div>
<div class="t" style="font-weight:400;color:#444;transform:translate(13.00px,222.78px) scale(0.1964,0.2050)">ATG plus Calcineurin Inhibitor</div>
<div class="t" style="font-weight:400;color:#444;transform:translate(21.00px,236.08px) scale(0.1900,0.1900) translateX(-50%)">Run</div>
<div class="t" style="font-weight:400;color:#444;transform:translate(45.90px,236.08px) scale(0.1900,0.1900) translateX(-50%)">Reset</div>
<div class="t" style="font-weight:400;color:#84404a;transform:translate(319.80px,10.81px) scale(0.4490,0.4600) translateX(-50%)">High risk group</div>
<div class="t" style="font-weight:400;color:#222;transform:translate(144.80px,29.28px) scale(0.3275,0.3200)">Patient risk</div>
<div class="t" style="font-weight:400;color:#333;transform:translate(131.90px,41.48px) scale(0.2854,0.3200) translateX(-100%)">Risk</div>
<div class="t" style="font-weight:400;color:#333;transform:translate(134.20px,54.97px) scale(0.3395,0.3500) translateX(-50%)">0</div>
<div class="t" style="font-weight:400;color:#333;transform:translate(208.40px,54.97px) scale(0.3395,0.3500) translateX(-50%)">20</div>
<div class="t" style="font-weight:400;color:#333;transform:translate(282.60px,54.97px) scale(0.3395,0.3500) translateX(-50%)">40</div>
<div class="t" style="font-weight:400;color:#333;transform:translate(356.80px,54.97px) scale(0.3395,0.3500) translateX(-50%)">60</div>
<div class="t" style="font-weight:400;color:#333;transform:translate(431.00px,54.97px) scale(0.3395,0.3500) translateX(-50%)">80</div>
<div class="t" style="font-weight:400;color:#333;transform:translate(505.20px,54.97px) scale(0.3395,0.3500) translateX(-50%)">100</div>
<div class="t" style="font-weight:400;color:#333;-webkit-text-stroke:0.5px #333;transform:translate(319.60px,65.60px) scale(0.3373,0.4250) translateX(-50%)">Percentile</div>
<div class="t" style="font-weight:700;color:#222;transform:translate(248.05px,81.23px) scale(0.3286,0.3200) translateX(-50%)">Time Period</div>
<div class="t" style="font-weight:700;color:#222;transform:translate(313.25px,81.23px) scale(0.3291,0.3200) translateX(-50%)">Non-Relapse Mortality</div>
<div class="t" style="font-weight:700;color:#222;transform:translate(380.75px,81.23px) scale(0.3365,0.3200) translateX(-50%)">Mortality Rate</div>
<div class="t" style="font-weight:400;color:#333;-webkit-text-stroke:0.4px #333;transform:translate(248.45px,95.17px) scale(0.3085,0.3150) translateX(-50%)">1 Year</div>
<div class="t" style="font-weight:400;color:#333;-webkit-text-stroke:0.4px #333;transform:translate(313.40px,95.17px) scale(0.3297,0.3150) translateX(-50%)">35%</div>
<div class="t" style="font-weight:400;color:#333;-webkit-text-stroke:0.4px #333;transform:translate(380.70px,95.17px) scale(0.3148,0.3150) translateX(-50%)">41%</div>
<div class="t" style="font-weight:400;color:#333;-webkit-text-stroke:0.4px #333;transform:translate(248.05px,109.67px) scale(0.3072,0.3150) translateX(-50%)">2 Years</div>
<div class="t" style="font-weight:400;color:#333;-webkit-text-stroke:0.4px #333;transform:translate(313.40px,109.67px) scale(0.3148,0.3150) translateX(-50%)">41%</div>
<div class="t" style="font-weight:400;color:#333;-webkit-text-stroke:0.4px #333;transform:translate(380.70px,109.67px) scale(0.3297,0.3150) translateX(-50%)">48%</div>
<div class="t" style="font-weight:400;color:#333;transform:translate(115.15px,130.07px) scale(0.3348,0.3150)">Curves representing overall survival and non-relapse mortality according to the machine learning model in a training set of</div>
<div class="t" style="font-weight:400;color:#333;transform:translate(115.15px,137.57px) scale(0.3353,0.3150)">3,888 myelofibrosis patients from the EBMT database. Patients were split according to the predicted quartile of risk. Each</div>
<div class="t" style="font-weight:400;color:#333;transform:translate(115.15px,145.07px) scale(0.3353,0.3150)">branch represents a quartile of patients with either high (red), intermediate-high (orange), intermediate-low (green) and low risk (blue).</div>
<div class="t" style="font-weight:400;color:#222;-webkit-text-stroke:0.7px #222;transform:translate(130.25px,176.99px) scale(0.3146,0.3550) translateX(-100%)">1.00</div>
<div class="t" style="font-weight:400;color:#222;-webkit-text-stroke:0.7px #222;transform:translate(130.25px,200.46px) scale(0.3236,0.3550) translateX(-100%)">0.75</div>
<div class="t" style="font-weight:400;color:#222;-webkit-text-stroke:0.7px #222;transform:translate(130.25px,223.94px) scale(0.3236,0.3550) translateX(-100%)">0.50</div>
<div class="t" style="font-weight:400;color:#222;-webkit-text-stroke:0.7px #222;transform:translate(130.25px,247.41px) scale(0.3236,0.3550) translateX(-100%)">0.25</div>
<div class="t" style="font-weight:400;color:#222;-webkit-text-stroke:0.7px #222;transform:translate(130.25px,270.89px) scale(0.3236,0.3550) translateX(-100%)">0.00</div>
<div class="t" style="font-weight:400;color:#222;-webkit-text-stroke:0.7px #222;transform:translate(338.30px,175.89px) scale(0.3146,0.3550) translateX(-100%)">1.00</div>
<div class="t" style="font-weight:400;color:#222;-webkit-text-stroke:0.7px #222;transform:translate(338.30px,199.64px) scale(0.3236,0.3550) translateX(-100%)">0.75</div>
<div class="t" style="font-weight:400;color:#222;-webkit-text-stroke:0.7px #222;transform:translate(338.30px,223.39px) scale(0.3236,0.3550) translateX(-100%)">0.50</div>
<div class="t" style="font-weight:400;color:#222;-webkit-text-stroke:0.7px #222;transform:translate(338.30px,247.14px) scale(0.3236,0.3550) translateX(-100%)">0.25</div>
<div class="t" style="font-weight:400;color:#222;-webkit-text-stroke:0.7px #222;transform:translate(338.30px,270.89px) scale(0.3236,0.3550) translateX(-100%)">0.00</div>
<div class="t" style="font-weight:400;color:#222;-webkit-text-stroke:0.7px #222;transform:translate(143.40px,285.24px) scale(0.3256,0.3700) translateX(-50%)">0</div>
<div class="t" style="font-weight:400;color:#222;-webkit-text-stroke:0.7px #222;transform:translate(181.35px,285.24px) scale(0.3256,0.3700) translateX(-50%)">30</div>
<div class="t" style="font-weight:400;color:#222;-webkit-text-stroke:0.7px #222;transform:translate(219.30px,285.24px) scale(0.3256,0.3700) translateX(-50%)">60</div>
<div class="t" style="font-weight:400;color:#222;-webkit-text-stroke:0.7px #222;transform:translate(257.25px,285.24px) scale(0.3256,0.3700) translateX(-50%)">90</div>
<div class="t" style="font-weight:400;color:#222;-webkit-text-stroke:0.7px #222;transform:translate(295.20px,285.24px) scale(0.3256,0.3700) translateX(-50%)">120</div>
<div class="t" style="font-weight:400;color:#222;-webkit-text-stroke:0.7px #222;transform:translate(352.10px,285.24px) scale(0.3256,0.3700) translateX(-50%)">0</div>
<div class="t" style="font-weight:400;color:#222;-webkit-text-stroke:0.7px #222;transform:translate(390.05px,285.24px) scale(0.3256,0.3700) translateX(-50%)">30</div>
<div class="t" style="font-weight:400;color:#222;-webkit-text-stroke:0.7px #222;transform:translate(428.00px,285.24px) scale(0.3256,0.3700) translateX(-50%)">60</div>
<div class="t" style="font-weight:400;color:#222;-webkit-text-stroke:0.7px #222;transform:translate(465.95px,285.24px) scale(0.3256,0.3700) translateX(-50%)">90</div>
<div class="t" style="font-weight:400;color:#222;-webkit-text-stroke:0.7px #222;transform:translate(503.90px,285.24px) scale(0.3256,0.3700) translateX(-50%)">120</div>
<div class="t" style="font-weight:400;color:#222;-webkit-text-stroke:0.6px #222;transform:translate(219.40px,297.38px) scale(0.3464,0.4500) translateX(-50%)">Time (months)</div>
<div class="t" style="font-weight:400;color:#222;-webkit-text-stroke:0.6px #222;transform:translate(428.00px,297.38px) scale(0.3464,0.4500) translateX(-50%)">Time (months)</div>
<div class="t" style="font-weight:400;color:#222;transform:translate(219.50px,162.94px) scale(0.4356,0.4350) translateX(-50%)">Overall Survival</div>
<div class="t" style="font-weight:400;color:#222;transform:translate(428.00px,162.14px) scale(0.4448,0.4350) translateX(-50%)">Non-Relapse Mortality</div>
<div class="t" style="color:#222;transform:translate(111.20px,223.60px) rotate(-90deg) scale(0.3318,0.4300) translate(-50%,-50%)">Survival probability</div>
<div class="t" style="color:#222;transform:translate(316.30px,225.90px) rotate(-90deg) scale(0.3475,0.4100) translate(-50%,-50%)">Cumulative event</div>
<div id="frame"></div>
</body></html>
